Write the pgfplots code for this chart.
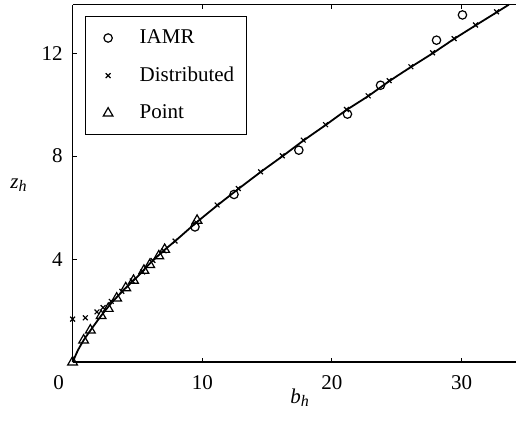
\documentclass[border=0pt]{standalone}
\usepackage{fontspec}
\setmainfont{Liberation Serif}
\usepackage{pgfplots}
\pgfplotsset{compat=1.18}

\newcommand{\lbl}{\fontsize{10.5}{12}\selectfont}

\begin{document}
\begin{tikzpicture}
\begin{axis}[
  width=221.7pt, height=178.75pt, scale only axis,
  xmin=0, xmax=34.2, ymin=0, ymax=13.88,
  clip=false,
  axis x line=box, axis y line*=left,
  axis line style={black, line width=0.5pt},
  xtick={10,20,30}, ytick={4,8,12},
  tick align=inside, major tick length=2.2pt,
  tick style={black, line width=0.5pt},
  /pgf/number format/assume math mode=true,
  tick label style={font=\lbl},
  x tick label style={yshift=-3.2pt},
  y tick label style={xshift=-1.5pt},
  legend style={at={(rel axis cs:0.028,0.968)}, anchor=north west,
    draw=black, line width=0.5pt, font=\lbl,
    inner xsep=6pt, inner ysep=6.5pt, row sep=10.2pt,
    nodes={inner sep=0pt}},
  legend cell align=left,
  legend image code/.code={%
    \path (-5pt,0pt) (15.5pt,0pt);
    \draw[#1] plot coordinates {(0pt,0pt)};},
]
% fitted curve
\addplot[black, line width=0.9pt, smooth, tension=0.4, forget plot] coordinates {
 (0,0) (0.4,0.45) (0.85,0.85) (1.4,1.25) (2.2,1.8) (3,2.3) (4,2.83) (5,3.32)
 (6,3.85) (7,4.32) (8,4.74) (9.5,5.4) (11.15,6.08) (12.8,6.73) (14.5,7.38)
 (16.2,8.0) (17.8,8.6) (19.5,9.2) (21.1,9.78) (22.8,10.33) (24.4,10.9)
 (26.1,11.46) (27.8,12.0) (29.4,12.54) (31.1,13.08) (32.7,13.58) (33.65,13.88)};
\addplot[only marks, mark=o, mark size=2.1pt, black, line width=0.6pt] coordinates {
 (9.44,5.25) (12.45,6.51) (17.45,8.23) (21.2,9.63) (23.75,10.75) (28.07,12.5) (30.07,13.48)};
\addlegendentry{IAMR}
\addplot[only marks, mark=x, mark size=1.7pt, black, line width=0.6pt] coordinates {
 (0,1.67) (0.98,1.72) (1.88,1.95) (2.35,2.12) (2.98,2.36) (3.8,2.75) (4.6,3.15)
 (5.4,3.5) (6.2,3.95) (7.05,4.32) (7.9,4.7) (9.55,5.42) (11.15,6.1) (12.78,6.74)
 (14.5,7.39) (16.17,8.01) (17.79,8.62) (19.51,9.22) (21.13,9.81) (22.8,10.34)
 (24.42,10.93) (26.09,11.47) (27.76,12.01) (29.43,12.56) (31.08,13.09) (32.7,13.6)};
\addlegendentry{Distributed}
\addplot[only marks, mark=triangle, mark size=2.8pt, black, line width=0.6pt] coordinates {
 (0,0) (0.85,0.85) (1.37,1.24) (2.2,1.8) (2.75,2.08) (3.4,2.48) (4.1,2.88)
 (4.7,3.17) (5.5,3.56) (5.95,3.78) (6.65,4.12) (7.1,4.37) (9.6,5.5)};
\addlegendentry{Point}
% thicker bottom axis line
\draw[black, line width=1pt] (rel axis cs:0,0) -- (rel axis cs:1,0);
% corner tick label and axis labels
\node[anchor=base west, inner sep=0pt, font=\lbl] at (axis cs:-1.51,-1.05) {0};
\node[anchor=base west, inner sep=0pt, font=\lbl] at (axis cs:16.76,-1.59)
  {\textit{b}\raisebox{-0.35ex}{\fontsize{8}{9}\selectfont\textit{h}}};
\node[anchor=base west, inner sep=0pt, font=\lbl] at (axis cs:-4.83,6.76)
  {\textit{z}\raisebox{-0.35ex}{\fontsize{8}{9}\selectfont\textit{h}}};
\coordinate (bl) at (axis cs:-5.6,-2.447);
\coordinate (tr) at (axis cs:34.2,14.06);
\end{axis}
\pgfresetboundingbox
\path[use as bounding box] (bl) rectangle (tr);
\end{tikzpicture}
\end{document}
